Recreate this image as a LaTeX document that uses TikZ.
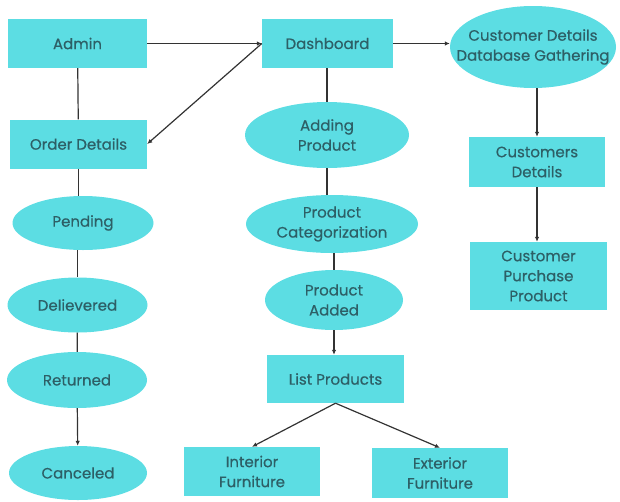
\documentclass[tikz,border=0pt]{standalone}
\usepackage{fontspec}
\setmainfont{Poppins}
\usetikzlibrary{arrows.meta,shapes}

\definecolor{boxfill}{HTML}{5CDDE3}
\definecolor{boxtext}{HTML}{2D5F66}
\definecolor{linecol}{HTML}{333333}

\begin{document}
\begin{tikzpicture}[x=1pt,y=-1pt,
  box/.style={rectangle,fill=boxfill,text=boxtext,align=center,inner sep=0pt},
  oval/.style={ellipse,fill=boxfill,text=boxtext,align=center,inner sep=0pt},
  link/.style={draw=linecol,line width=1.2pt},
  arr/.style={link,-{Latex[length=5pt,width=4.5pt]}},
  font=\fontsize{15}{20}\selectfont\addfontfeature{FakeBold=0.5}]
  \useasboundingbox (0,0) rectangle (620,501);
  % left column
  \node[box,minimum width=139pt,minimum height=49pt] (admin) at (77.5,43.5) {Admin};
  \node[box,minimum width=137pt,minimum height=49pt] (order) at (78.5,144) {Order Details};
  \node[oval,minimum width=141pt,minimum height=54pt] (pend) at (83,223) {Pending};
  \node[oval,minimum width=140pt,minimum height=55pt] (deliv) at (77.5,305) {Delievered};
  \node[oval,minimum width=140pt,minimum height=56pt] (ret) at (77,380) {Returned};
  \node[oval,minimum width=138pt,minimum height=54pt] (canc) at (78,473) {Canceled};
  % middle column
  \node[box,minimum width=131pt,minimum height=49pt] (dash) at (327.5,43.5) {Dashboard};
  \node[oval,minimum width=164pt,minimum height=66pt] (adding) at (327,135) {Adding\\Product};
  \node[oval,minimum width=172pt,minimum height=58pt] (categ) at (332,224) {Product\\Categorization};
  \node[oval,minimum width=138pt,minimum height=60pt] (padded) at (334,300) {Product\\Added};
  \node[box,minimum width=137pt,minimum height=48pt] (list) at (335.5,379) {List Products};
  \node[box,minimum width=136pt,minimum height=49pt] (inter) at (252,471.5) {Interior\\Furniture};
  \node[box,minimum width=136pt,minimum height=50pt] (exter) at (440,473) {Exterior\\Furniture};
  % right column (text boxes kept narrow so the ellipse stays small)
  \node[oval,minimum width=166pt,minimum height=82pt] (cdb) at (533,47)
    {\makebox[100pt]{Customer Details}\\\makebox[100pt]{Database Gathering}};
  \node[box,minimum width=136pt,minimum height=50pt] (cust) at (537,162) {Customers\\Details};
  \node[box,minimum width=137pt,minimum height=68pt] (purch) at (538.5,276) {Customer\\Purchase\\Product};
  % connectors
  \draw[arr] (admin.east) -- (dash.west);
  \draw[arr] (dash.west) -- (order.east);
  \draw[link] (admin) -- (order);
  \draw[link] (order.south) -- (order.south |- pend.north);
  \draw[link] (pend.south -| deliv.north) -- (deliv.north);
  \draw[link] (deliv) -- (ret);
  \draw[arr] (ret) -- (canc);
  \draw[arr] (dash.east) -- (dash.east -| cdb.west);
  \draw[arr] (cdb.south -| cust.north) -- (cust.north);
  \draw[arr] (cust) -- (purch.north -| cust.south);
  \draw[link] (dash.south -| adding.north) -- (adding.north);
  \draw[link] (adding) -- (adding |- categ.north);
  \draw[link] (categ.south -| padded.north) -- (padded.north);
  \draw[arr] (padded) -- (padded |- list.north);
  \draw[arr] (list.south) -- (inter.north);
  \draw[arr] (list.south) -- (exter.north);
\end{tikzpicture}
\end{document}
